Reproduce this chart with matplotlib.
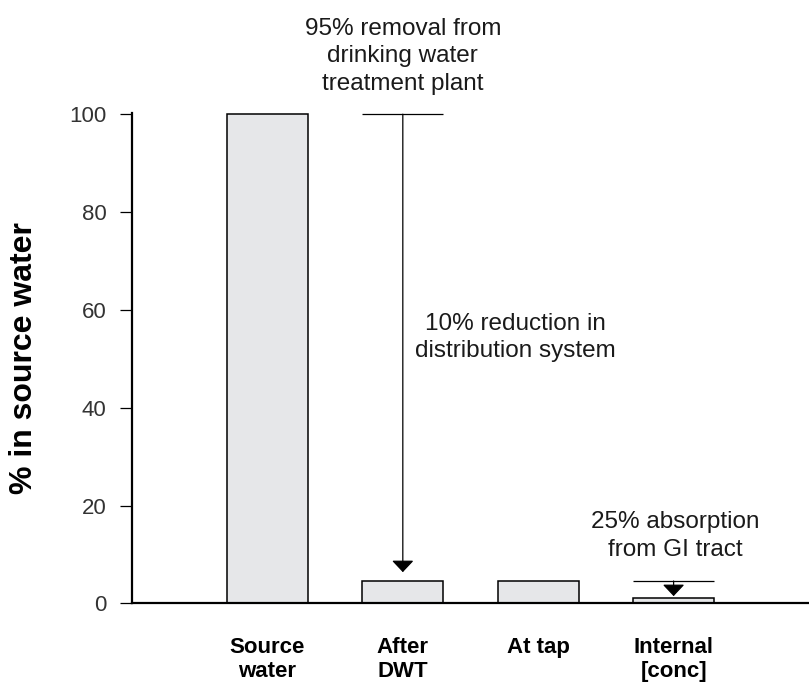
import matplotlib
matplotlib.use("Agg")
import matplotlib.pyplot as plt

# values
categories = ["Source\nwater", "After\nDWT", "At tap", "Internal\n[conc]"]
pct_in_source = [100, 4.6, 4.6, 1.2]
y_ticks = [0, 20, 40, 60, 80, 100]

# annotation levels (same units as the bars)
removal_from = 100      # line above "After DWT"
absorb_from = 4.6       # line above "Internal"
note_removal = "95% removal from\ndrinking water\ntreatment plant"
note_dist = "10% reduction in\ndistribution system"
note_gi = "25% absorption\nfrom GI tract"

plt.rcParams["font.family"] = ["Liberation Sans", "DejaVu Sans"]

fig = plt.figure(figsize=(8.09, 6.86), dpi=100)
ax = fig.add_axes([0.1632, 0.1203, 0.8368, 0.7154])

x = list(range(1, len(categories) + 1))
ax.bar(x, pct_in_source, width=0.6, color="#e6e7e9", edgecolor="black", linewidth=1.1, zorder=2)

ax.set_xlim(0, 5.0)
ax.set_ylim(0, 100.3)
ax.set_yticks(y_ticks)
ax.set_yticklabels([str(t) for t in y_ticks], color="#333333", fontsize=16)
ax.tick_params(axis="y", length=8.5, width=0.9, pad=10, direction="out")
ax.set_xticks(x)
ax.set_xticklabels(categories, fontsize=16, fontweight="bold", linespacing=1.22)
ax.tick_params(axis="x", length=0, pad=24)

for s in ["top", "right"]:
    ax.spines[s].set_visible(False)
ax.spines["left"].set_linewidth(1.6)
ax.spines["bottom"].set_linewidth(1.6)

ax.set_ylabel("% in source water", fontsize=23, fontweight="bold")
ax.yaxis.set_label_coords(-0.137, 0.5)

arrow = dict(arrowstyle="-|>,head_length=0.72,head_width=0.68", color="black",
             lw=0.9, shrinkA=0, shrinkB=0)

# 95% removal step
ax.hlines(removal_from, x[1] - 0.3, x[1] + 0.3, color="black", lw=0.9, clip_on=False)
ax.annotate("", xy=(x[1], pct_in_source[1] + 1.8), xytext=(x[1], removal_from),
            arrowprops=arrow, annotation_clip=False)
ax.text(x[1], 111.8, note_removal, ha="center", va="center", fontsize=17.5,
        linespacing=1.3, color="#1a1a1a", clip_on=False)

ax.text(2.83, 54.4, note_dist, ha="center", va="center", fontsize=17.5,
        linespacing=1.3, color="#1a1a1a")

# 25% absorption step
ax.hlines(absorb_from, x[3] - 0.3, x[3] + 0.3, color="black", lw=0.9)
ax.annotate("", xy=(x[3], pct_in_source[3] + 0.3), xytext=(x[3], absorb_from),
            arrowprops=arrow)
ax.text(4.01, 13.8, note_gi, ha="center", va="center", fontsize=17.5,
        linespacing=1.3, color="#1a1a1a")

fig.savefig("out.png", dpi=100)
